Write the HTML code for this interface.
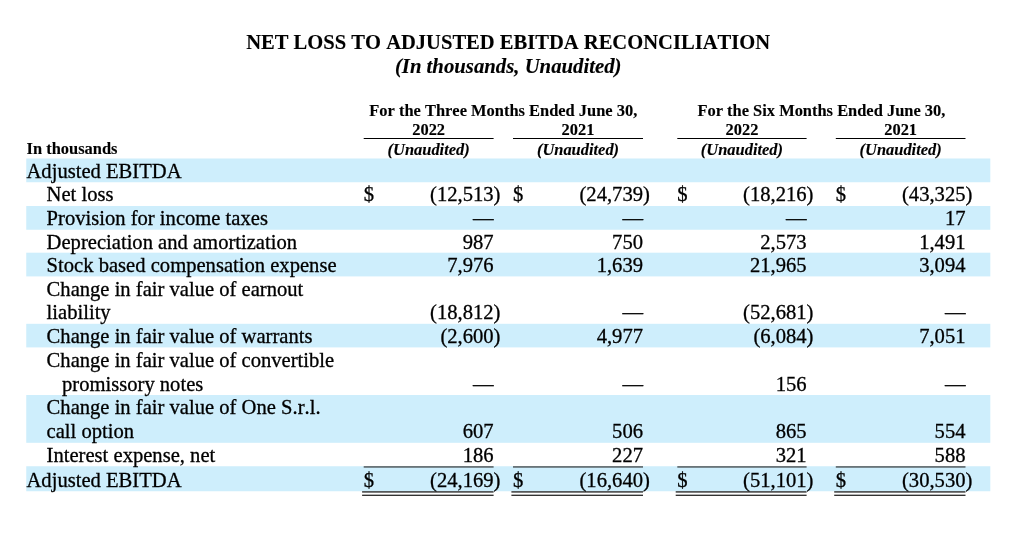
<!DOCTYPE html>
<html><head><meta charset="utf-8"><title>Net Loss to Adjusted EBITDA Reconciliation</title>
<style>
html,body{margin:0;padding:0;background:#fff;}
body{width:1024px;height:533px;position:relative;overflow:hidden;font-family:"Liberation Serif","Times New Roman",Times,serif;color:#000;font-kerning:none;-webkit-text-stroke:0.3px #000;}
.t{position:absolute;white-space:nowrap;font-size:20.6px;line-height:24px;}
.h{position:absolute;white-space:nowrap;font-size:16.45px;line-height:19px;font-weight:bold;-webkit-text-stroke-width:0.12px;}
.c{transform:translateX(-50%);}
.r{text-align:right;}
.bg{position:absolute;left:26.25px;width:964.05px;background:#ceeefc;}
.ln{position:absolute;height:1px;background:#000;}
.p{position:absolute;left:100%;top:0;}
i{font-style:italic;}
</style></head><body>
<div class="t" style="left:228.10px;width:560px;text-align:center;top:30px;font-weight:bold;font-size:20.57px;-webkit-text-stroke-width:0.12px;">NET LOSS TO ADJUSTED EBITDA RECONCILIATION</div>
<div class="t" style="left:228.20px;width:560px;text-align:center;top:54px;font-weight:bold;font-size:20.75px;-webkit-text-stroke-width:0.12px;"><i>(In thousands, Unaudited)</i></div>
<div class="h" style="left:353.30px;width:300px;text-align:center;top:101px;">For the Three Months Ended June 30,</div>
<div class="h" style="left:671.40px;width:300px;text-align:center;top:101px;">For the Six Months Ended June 30,</div>
<div class="h" style="left:368.65px;width:120px;text-align:center;top:120px;">2022</div>
<div class="h" style="left:368.65px;width:120px;text-align:center;top:140px;"><i>(Unaudited)</i></div>
<div class="h" style="left:518.00px;width:120px;text-align:center;top:120px;">2021</div>
<div class="h" style="left:518.00px;width:120px;text-align:center;top:140px;"><i>(Unaudited)</i></div>
<div class="h" style="left:681.95px;width:120px;text-align:center;top:120px;">2022</div>
<div class="h" style="left:681.95px;width:120px;text-align:center;top:140px;"><i>(Unaudited)</i></div>
<div class="h" style="left:840.65px;width:120px;text-align:center;top:120px;">2021</div>
<div class="h" style="left:840.65px;width:120px;text-align:center;top:140px;"><i>(Unaudited)</i></div>
<div class="h" style="left:26.60px;top:139px;">In thousands</div>
<svg width="1024" height="533" viewBox="0 0 1024 533" style="position:absolute;left:0;top:0;"><rect x="26.25" y="158.50" width="964.05" height="23.75" fill="#ceeefc"/><rect x="26.25" y="206.00" width="964.05" height="23.75" fill="#ceeefc"/><rect x="26.25" y="252.70" width="964.05" height="23.70" fill="#ceeefc"/><rect x="26.25" y="323.80" width="964.05" height="23.60" fill="#ceeefc"/><rect x="26.25" y="395.00" width="964.05" height="47.80" fill="#ceeefc"/><rect x="26.25" y="466.25" width="964.05" height="25.00" fill="#ceeefc"/><rect x="363.70" y="466.4" width="129.90" height="1.1" fill="#222"/><rect x="362.10" y="491.35" width="131.50" height="1.15" fill="#000"/><rect x="362.10" y="494.7" width="131.50" height="1.1" fill="#000"/><rect x="513.00" y="466.4" width="130.00" height="1.1" fill="#222"/><rect x="511.40" y="491.35" width="131.60" height="1.15" fill="#000"/><rect x="511.40" y="494.7" width="131.60" height="1.1" fill="#000"/><rect x="677.30" y="466.4" width="129.30" height="1.1" fill="#222"/><rect x="675.70" y="491.35" width="130.90" height="1.15" fill="#000"/><rect x="675.70" y="494.7" width="130.90" height="1.1" fill="#000"/><rect x="835.80" y="466.4" width="129.70" height="1.1" fill="#222"/><rect x="834.20" y="491.35" width="131.30" height="1.15" fill="#000"/><rect x="834.20" y="494.7" width="131.30" height="1.1" fill="#000"/><rect x="363.70" y="138" width="129.90" height="1" fill="#000"/><rect x="513.00" y="138" width="130.00" height="1" fill="#000"/><rect x="677.30" y="138" width="129.30" height="1" fill="#000"/><rect x="835.80" y="138" width="129.70" height="1" fill="#000"/></svg>
<div class="t" style="left:26.50px;top:159px;">Adjusted EBITDA</div>
<div class="t" style="left:46.60px;top:182px;">Net loss</div>
<div class="t r" style="right:530.40px;top:182px;">(12,513<span class="p">)</span></div>
<div class="t" style="left:363.70px;top:182px;">$</div>
<div class="t r" style="right:381.00px;top:182px;">(24,739<span class="p">)</span></div>
<div class="t" style="left:513.00px;top:182px;">$</div>
<div class="t r" style="right:217.40px;top:182px;">(18,216<span class="p">)</span></div>
<div class="t" style="left:677.30px;top:182px;">$</div>
<div class="t r" style="right:58.50px;top:182px;">(43,325<span class="p">)</span></div>
<div class="t" style="left:835.80px;top:182px;">$</div>
<div class="t" style="left:46.60px;top:206px;">Provision for income taxes</div>
<div class="t r" style="right:530.40px;top:206px;">—</div>
<div class="t r" style="right:381.00px;top:206px;">—</div>
<div class="t r" style="right:217.40px;top:206px;">—</div>
<div class="t r" style="right:58.50px;top:206px;">17</div>
<div class="t" style="left:46.60px;top:230px;">Depreciation and amortization</div>
<div class="t r" style="right:530.40px;top:230px;">987</div>
<div class="t r" style="right:381.00px;top:230px;">750</div>
<div class="t r" style="right:217.40px;top:230px;">2,573</div>
<div class="t r" style="right:58.50px;top:230px;">1,491</div>
<div class="t" style="left:46.60px;top:253px;">Stock based compensation expense</div>
<div class="t r" style="right:530.40px;top:253px;">7,976</div>
<div class="t r" style="right:381.00px;top:253px;">1,639</div>
<div class="t r" style="right:217.40px;top:253px;">21,965</div>
<div class="t r" style="right:58.50px;top:253px;">3,094</div>
<div class="t" style="left:46.60px;top:277px;">Change in fair value of earnout</div>
<div class="t" style="left:46.60px;top:300px;">liability</div>
<div class="t r" style="right:530.40px;top:300px;">(18,812<span class="p">)</span></div>
<div class="t r" style="right:381.00px;top:300px;">—</div>
<div class="t r" style="right:217.40px;top:300px;">(52,681<span class="p">)</span></div>
<div class="t r" style="right:58.50px;top:300px;">—</div>
<div class="t" style="left:46.60px;top:324px;">Change in fair value of warrants</div>
<div class="t r" style="right:530.40px;top:324px;">(2,600<span class="p">)</span></div>
<div class="t r" style="right:381.00px;top:324px;">4,977</div>
<div class="t r" style="right:217.40px;top:324px;">(6,084<span class="p">)</span></div>
<div class="t r" style="right:58.50px;top:324px;">7,051</div>
<div class="t" style="left:46.60px;top:348px;">Change in fair value of convertible</div>
<div class="t" style="left:62.00px;top:372px;">promissory notes</div>
<div class="t r" style="right:530.40px;top:372px;">—</div>
<div class="t r" style="right:381.00px;top:372px;">—</div>
<div class="t r" style="right:217.40px;top:372px;">156</div>
<div class="t r" style="right:58.50px;top:372px;">—</div>
<div class="t" style="left:46.60px;top:395px;">Change in fair value of One S.r.l.</div>
<div class="t" style="left:46.60px;top:419px;">call option</div>
<div class="t r" style="right:530.40px;top:419px;">607</div>
<div class="t r" style="right:381.00px;top:419px;">506</div>
<div class="t r" style="right:217.40px;top:419px;">865</div>
<div class="t r" style="right:58.50px;top:419px;">554</div>
<div class="t" style="left:46.60px;top:443px;">Interest expense, net</div>
<div class="t r" style="right:530.40px;top:443px;">186</div>
<div class="t r" style="right:381.00px;top:443px;">227</div>
<div class="t r" style="right:217.40px;top:443px;">321</div>
<div class="t r" style="right:58.50px;top:443px;">588</div>
<div class="t" style="left:26.50px;top:468px;">Adjusted EBITDA</div>
<div class="t r" style="right:530.40px;top:468px;">(24,169<span class="p">)</span></div>
<div class="t" style="left:363.70px;top:468px;">$</div>
<div class="t r" style="right:381.00px;top:468px;">(16,640<span class="p">)</span></div>
<div class="t" style="left:513.00px;top:468px;">$</div>
<div class="t r" style="right:217.40px;top:468px;">(51,101<span class="p">)</span></div>
<div class="t" style="left:677.30px;top:468px;">$</div>
<div class="t r" style="right:58.50px;top:468px;">(30,530<span class="p">)</span></div>
<div class="t" style="left:835.80px;top:468px;">$</div>
</body></html>
